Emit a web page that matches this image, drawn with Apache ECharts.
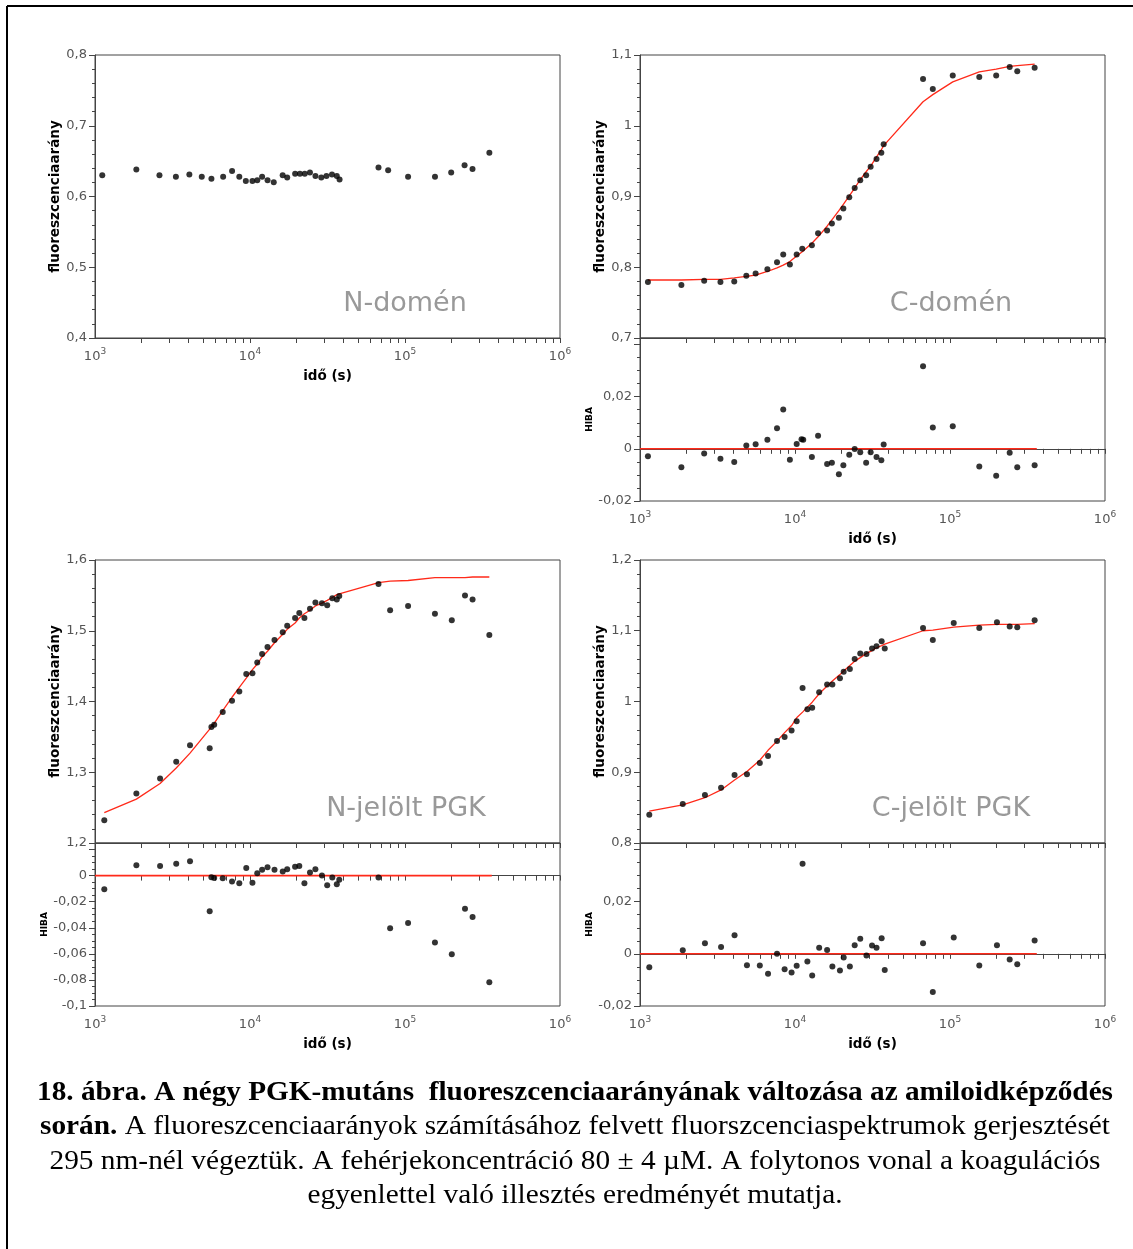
<!DOCTYPE html>
<html><head><meta charset="utf-8">
<script src="https://cdn.jsdelivr.net/npm/echarts@6/dist/echarts.min.js"></script>
<style>html,body{margin:0;padding:0;background:#fff}#c{width:1133px;height:1249px}</style>
</head><body><div id="c"></div><script>
// ---------- DATA ----------
// Panel 1: N-domén
const tNdom = [1114,1848,2605,3326,4062,4885,5637,6710,7663,8530,9400,10370,11140,11970,12980,14230,16250,17380,19550,20990,22550,24360,26440,28840,31140,33800,36310,37830,67450,77850,104700,156100,198600,242300,272700,350200];
const vNdom = [0.630,0.638,0.630,0.628,0.631,0.628,0.625,0.628,0.636,0.628,0.622,0.622,0.623,0.628,0.623,0.620,0.630,0.627,0.632,0.632,0.632,0.634,0.629,0.627,0.629,0.631,0.629,0.624,0.641,0.637,0.628,0.628,0.634,0.644,0.639,0.662];

// Panel 2: C-domén
const tCdom = [1125,1849,2594,3304,4055,4853,5572,6637,7656,8395,9268,10250,11140,12850,14090,16110,17300,19190,20510,22390,24270,26360,28770,30760,33570,36060,37330,66990,77450,104200,154500,198600,242700,271600,351600];
const vCdom = [0.779,0.775,0.781,0.779,0.780,0.788,0.791,0.797,0.807,0.818,0.804,0.818,0.826,0.831,0.848,0.852,0.862,0.870,0.883,0.899,0.912,0.923,0.930,0.942,0.953,0.962,0.974,1.066,1.052,1.071,1.069,1.071,1.083,1.077,1.082];
const fitCdom = [0.782,0.782,0.783,0.783,0.785,0.787,0.789,0.794,0.799,0.803,0.808,0.816,0.822,0.834,0.843,0.858,0.867,0.880,0.889,0.901,0.912,0.924,0.935,0.943,0.956,0.966,0.972,1.034,1.044,1.062,1.076,1.080,1.084,1.085,1.087];
const tCdomRes = [1125,1849,2594,3304,4055,4853,5572,6637,7656,8395,9268,10250,11020,11300,12850,14090,16110,17300,19190,20510,22390,24270,26360,28770,30760,33570,36060,37330,66990,77450,104200,154500,198600,242700,271600,351600];
const rCdom = [-0.0028,-0.0071,-0.0018,-0.0038,-0.0050,0.0013,0.0018,0.0035,0.0079,0.0151,-0.0042,0.0019,0.0037,0.0035,-0.0031,0.0050,-0.0058,-0.0053,-0.0097,-0.0063,-0.0023,-0.0001,-0.0013,-0.0053,-0.0013,-0.0031,-0.0044,0.0017,0.0317,0.0082,0.0087,-0.0068,-0.0103,-0.0015,-0.0071,-0.0063];

// Panel 3: N-jelölt PGK
const tNpgk = [1148,1849,2630,3342,4102,5495,5636,5875,6668,7656,8531,9462,10370,11140,11970,12970,14390,16260,17380,19540,20800,22440,24380,26420,29110,31480,33960,36310,37670,67450,80170,104700,156000,200400,243800,272900,350000];
const vNpgk = [1.232,1.270,1.291,1.315,1.338,1.334,1.364,1.367,1.385,1.401,1.414,1.439,1.440,1.455,1.467,1.477,1.487,1.498,1.507,1.518,1.525,1.518,1.531,1.540,1.539,1.536,1.546,1.544,1.549,1.566,1.529,1.535,1.524,1.515,1.550,1.544,1.494];
const fitNpgk = [1.243,1.262,1.284,1.306,1.327,1.361,1.365,1.369,1.387,1.406,1.420,1.433,1.445,1.453,1.463,1.471,1.483,1.495,1.502,1.511,1.518,1.524,1.529,1.535,1.539,1.543,1.547,1.551,1.552,1.568,1.570,1.571,1.575,1.575,1.575,1.576,1.576];
const rNpgk = [-0.0105,0.0079,0.0074,0.0090,0.0110,-0.0274,-0.0013,-0.0018,-0.0021,-0.0046,-0.0059,0.0059,-0.0054,0.0018,0.0044,0.0064,0.0044,0.0031,0.0049,0.0067,0.0074,-0.0059,0.0023,0.0049,0.0000,-0.0074,-0.0015,-0.0067,-0.0031,-0.0015,-0.0403,-0.0364,-0.0513,-0.0603,-0.0254,-0.0318,-0.0818];

// Panel 4: C-jelölt PGK
const tCpgk = [1148,1888,2624,3334,4074,4898,5929,6699,7656,8570,9506,10250,11190,12020,12910,14320,16110,17420,19500,20610,22590,24270,26360,28910,31410,33570,36220,37930,66990,77450,105700,154500,200900,242700,271600,351600];
const vCpgk = [0.840,0.855,0.868,0.878,0.896,0.897,0.913,0.923,0.944,0.950,0.959,0.972,1.019,0.989,0.991,1.013,1.024,1.024,1.033,1.042,1.046,1.060,1.068,1.067,1.075,1.078,1.085,1.075,1.104,1.087,1.111,1.104,1.112,1.106,1.105,1.115];
const fitCpgk = [0.845,0.854,0.864,0.875,0.889,0.901,0.917,0.931,0.944,0.956,0.966,0.977,0.985,0.992,0.999,1.011,1.022,1.029,1.038,1.043,1.051,1.057,1.062,1.068,1.072,1.076,1.079,1.081,1.100,1.101,1.105,1.108,1.109,1.109,1.109,1.110];
const rCpgk = [-0.0051,0.0014,0.0041,0.0026,0.0071,-0.0044,-0.0045,-0.0076,0.0000,-0.0059,-0.0072,-0.0046,0.0345,-0.0029,-0.0083,0.0023,0.0015,-0.0049,-0.0064,-0.0014,-0.0049,0.0033,0.0058,-0.0006,0.0032,0.0023,0.0060,-0.0062,0.0041,-0.0146,0.0063,-0.0045,0.0033,-0.0022,-0.0040,0.0051];

// zero reference line of the residual plots
const zeroT = [1000, 363000];
const zeroV = [0, 0];

// labels
const panelNames = ['N-domén', 'C-domén', 'N-jelölt PGK', 'C-jelölt PGK'];
const yTitle = 'fluoreszcenciaarány';
const resTitle = 'HIBA';
const xTitle = 'idő (s)';
const captionLines = [
  '18. ábra. A négy PGK-mutáns  fluoreszcenciaarányának változása az amiloidképződés',
  ['során.', ' A fluoreszcenciaarányok számításához felvett fluorszcenciaspektrumok gerjesztését'],
  '295 nm-nél végeztük. A fehérjekoncentráció 80 ± 4 µM. A folytonos vonal a koagulációs',
  'egyenlettel való illesztés eredményét mutatja.'
];

// ---------- CHART ----------
const zip = (a, b) => a.map((x, i) => [x, b[i]]);
const AX = '#444', LAB = '#555', FONT = 'DejaVu Sans';
const xTicks = [];
for (let n = 3; n <= 5; n++) for (let k = 1; k <= 9; k++) xTicks.push(k * Math.pow(10, n));
xTicks.push(1e6);

const fmtY = (hideAbove) => (v) => {
  if (hideAbove !== undefined && v > hideAbove) return '';
  const r = Math.round(v * 1000) / 1000;
  return String(r).replace('.', ',');
};

function xAx(gi, showLab) {
  return {
    type: 'log', logBase: 10, gridIndex: gi, min: 1000, max: 1e6,
    axisLine: { show: true, lineStyle: { color: AX, width: 1 } },
    axisTick: { show: true, inside: false, length: 5, lineStyle: { color: AX }, customValues: xTicks },
    minorTick: { show: false },
    splitLine: { show: false },
    axisLabel: {
      show: showLab, margin: 9,
      formatter: (v) => '{b|10}{s|' + Math.round(Math.log10(v)) + '}',
      rich: {
        b: { fontSize: 13, fontFamily: FONT, color: LAB, lineHeight: 16, verticalAlign: 'bottom' },
        s: { fontSize: 9, fontFamily: FONT, color: LAB, lineHeight: 16, verticalAlign: 'top', padding: [0, 0, 6, 0] }
      }
    },
    name: showLab ? xTitle : '', nameLocation: 'middle', nameGap: 31,
    nameTextStyle: { fontWeight: 'bold', fontSize: 13.5, color: '#000', fontFamily: FONT }
  };
}
function yAx(gi, min, max, interval, split, name, nameSize, nameGap, hideAbove) {
  return {
    type: 'value', gridIndex: gi, min, max, interval,
    axisLine: { show: true, lineStyle: { color: AX, width: 1 } },
    axisTick: { show: true, inside: false, length: 6, lineStyle: { color: AX } },
    minorTick: { show: true, splitNumber: split, length: 3, lineStyle: { color: AX } },
    splitLine: { show: false },
    axisLabel: { margin: 8, fontSize: 13, fontFamily: FONT, color: LAB, formatter: fmtY(hideAbove) },
    name, nameLocation: 'middle', nameGap,
    nameTextStyle: { fontWeight: 'bold', fontSize: nameSize, color: '#000', fontFamily: FONT }
  };
}

const L1 = 95, L2 = 640, W = 465, T1 = 55, T2 = 560, HM = 283, HR = 163;
const grids = [
  { left: L1, top: T1, width: W, height: HM },
  { left: L2, top: T1, width: W, height: HM },
  { left: L2, top: T1 + HM, width: W, height: HR },
  { left: L1, top: T2, width: W, height: HM },
  { left: L1, top: T2 + HM, width: W, height: HR },
  { left: L2, top: T2, width: W, height: HM },
  { left: L2, top: T2 + HM, width: W, height: HR }
].map(g => Object.assign(g, { show: true, borderColor: AX, borderWidth: 1, backgroundColor: 'transparent', containLabel: false }));

const xAxes = [xAx(0, true), xAx(1, false), xAx(2, true), xAx(3, false), xAx(4, true), xAx(5, false), xAx(6, true)];
const yAxes = [
  yAx(0, 0.4, 0.8, 0.1, 5, yTitle, 13.5, 33),
  yAx(1, 0.7, 1.1, 0.1, 5, yTitle, 13.5, 33),
  yAx(2, -0.02, 0.0425, 0.02, 4, resTitle, 9, 46, 0.03),
  yAx(3, 1.2, 1.6, 0.1, 5, yTitle, 13.5, 33),
  yAx(4, -0.1, 0.025, 0.02, 4, resTitle, 9, 46, 0.015),
  yAx(5, 0.8, 1.2, 0.1, 5, yTitle, 13.5, 33),
  yAx(6, -0.02, 0.0425, 0.02, 4, resTitle, 9, 46, 0.03)
];

const dots = (i, t, v) => ({ type: 'scatter', xAxisIndex: i, yAxisIndex: i, data: zip(t, v), symbolSize: 6, itemStyle: { color: '#000' }, z: 5, silent: true });
const fit = (i, t, v, w) => ({ type: 'line', xAxisIndex: i, yAxisIndex: i, data: zip(t, v), showSymbol: false, symbol: 'none', lineStyle: { color: '#ff2a1a', width: w || 1.3 }, z: 3, silent: true });

const series = [
  dots(0, tNdom, vNdom),
  fit(1, tCdom, fitCdom), dots(1, tCdom, vCdom),
  fit(2, zeroT, zeroV, 1.5), dots(2, tCdomRes, rCdom),
  fit(3, tNpgk, fitNpgk), dots(3, tNpgk, vNpgk),
  fit(4, zeroT, zeroV, 1.6), dots(4, tNpgk, rNpgk),
  fit(5, tCpgk, fitCpgk), dots(5, tCpgk, vCpgk),
  fit(6, zeroT, zeroV, 1.5), dots(6, tCpgk, rCpgk)
];

// caption text fitting
const cv = document.createElement('canvas').getContext('2d');
const meas = (font, s) => { cv.font = font; return cv.measureText(s).width; };
const CF = 'Liberation Serif', CS = 27;
const fB = 'bold ' + CS + 'px "' + CF + '"', fN = CS + 'px "' + CF + '"';
const capTargets = [[575, 1093, 1076], [575, 1127, 1070], [575, 1162, 1051], [575, 1196, 535]];
const graphics = [];
captionLines.forEach((ln, i) => {
  const [cx, cy, tw] = capTargets[i];
  let natural, style;
  if (Array.isArray(ln)) {
    natural = meas(fB, ln[0]) + meas(fN, ln[1]);
    style = { text: '{b|' + ln[0] + '}{n|' + ln[1] + '}', rich: { b: { fontWeight: 'bold', fontSize: CS, fontFamily: CF, fill: '#000' }, n: { fontSize: CS, fontFamily: CF, fill: '#000' } } };
  } else {
    const f = i === 0 ? fB : fN;
    natural = meas(f, ln);
    style = { text: ln, fontWeight: i === 0 ? 'bold' : 'normal', fontSize: CS, fontFamily: CF };
  }
  Object.assign(style, { fill: '#000', align: 'center', verticalAlign: 'middle' });
  graphics.push({ type: 'text', x: cx, y: cy, scaleX: tw / natural, style, silent: true });
});
const namePos = [[405, 304], [951, 304], [406, 809], [951, 809]];
panelNames.forEach((nm, i) => graphics.push({ type: 'text', x: namePos[i][0], y: namePos[i][1], style: { text: nm, fontSize: 27, fontFamily: FONT, fill: '#999', align: 'center', verticalAlign: 'middle' }, silent: true }));
// frame
graphics.push({ type: 'line', shape: { x1: 7, y1: 6, x2: 1133, y2: 6 }, style: { stroke: '#000', lineWidth: 2 } });
graphics.push({ type: 'line', shape: { x1: 7, y1: 6, x2: 7, y2: 1249 }, style: { stroke: '#000', lineWidth: 2 } });

const chart = echarts.init(document.getElementById('c'), null, { renderer: 'canvas' });
chart.setOption({
  backgroundColor: '#fff', animation: false,
  grid: grids, xAxis: xAxes, yAxis: yAxes, series, graphic: graphics
});
</script></body></html>
